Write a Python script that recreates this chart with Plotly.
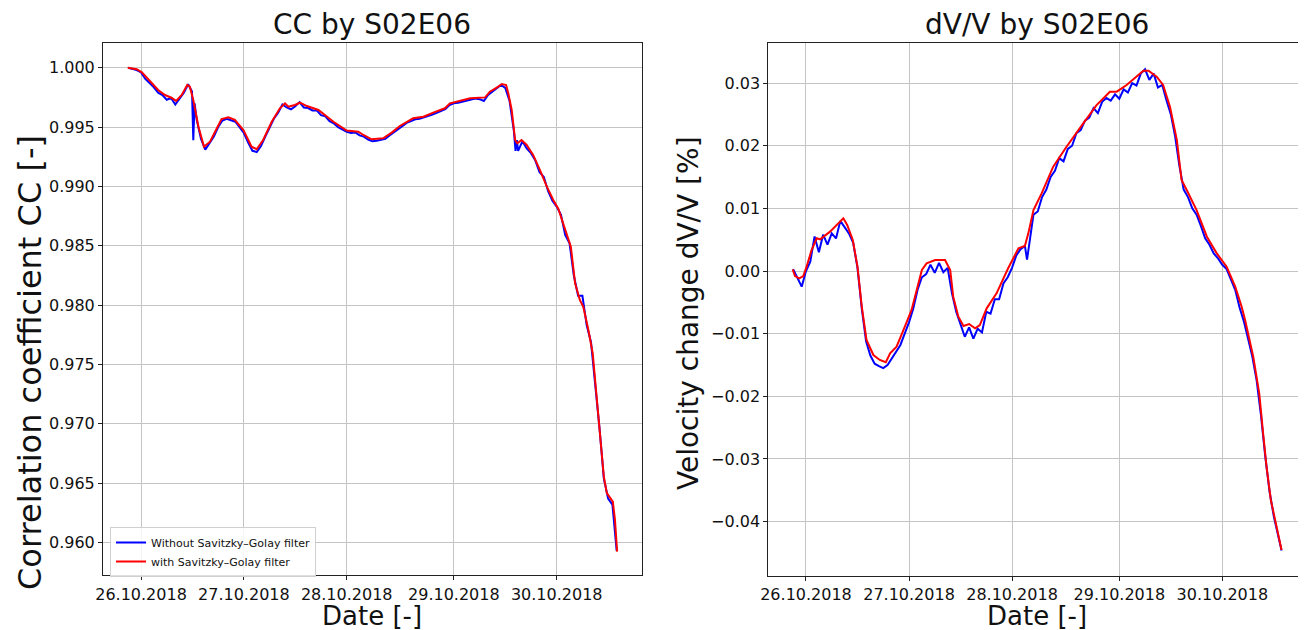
import plotly.graph_objects as go

# page body has an 8px margin: the figure is sized and positioned to compensate
OFF = 8
W, H = 1306 - OFF, 630 - OFF

# ---------------- data (hours since 26.10.2018 00:00 local time) ----------------
tick_hours = [0, 24, 48, 73, 97]
tick_labels = ["26.10.2018", "27.10.2018", "28.10.2018", "29.10.2018", "30.10.2018"]

cc_smooth_hours = [-3.1, -1.0, 0.2, 2.1, 4.0, 5.6, 7.1, 8.2, 9.5, 10.8, 11.4, 12.2, 13.4, 14.7,
                   16.1, 17.7, 18.8, 20.4, 21.9, 23.9, 25.8, 27.0, 28.5, 30.5, 32.4, 33.6, 34.4,
                   35.9, 37.1, 38.7, 41.4, 44.9, 48.0, 50.7, 51.9, 53.8, 56.5, 58.5, 60.4, 63.5,
                   65.9, 68.2, 70.9, 72.1, 74.4, 76.8, 80.3, 81.4, 83.0, 84.2, 85.2, 85.7, 86.5,
                   87.3, 87.8, 88.8, 90.0, 91.5, 93.1, 94.7, 96.2, 97.4, 98.5, 100.3, 101.3,
                   102.4, 103.2, 104.4, 105.4, 106.2, 107.1, 108.0, 108.7, 110.1, 110.6, 111.1]
cc_smooth = [1.0000, 0.99987, 0.99961, 0.99882, 0.99812, 0.99770, 0.99747, 0.99720, 0.99770,
             0.99854, 0.99840, 0.99728, 0.99503, 0.99335, 0.99377, 0.99490, 0.99568, 0.99582,
             0.99560, 0.99475, 0.99335, 0.99313, 0.99391, 0.99545, 0.99658, 0.99700, 0.99672,
             0.99686, 0.99705, 0.99677, 0.99644, 0.99545, 0.99470, 0.99461, 0.99433, 0.99397,
             0.99405, 0.99453, 0.99509, 0.99574, 0.99587, 0.99621, 0.99658, 0.99700, 0.99720,
             0.99742, 0.99750, 0.99798, 0.99832, 0.99863, 0.99854, 0.99784, 0.99644, 0.99391,
             0.99363, 0.99391, 0.99349, 0.99265, 0.99138, 0.98998, 0.98886, 0.98810, 0.98689,
             0.98492, 0.98184, 0.98044, 0.97987, 0.97791, 0.97595, 0.97258, 0.96921, 0.96555,
             0.96416, 0.96345, 0.96191, 0.95924]

cc_raw_hours = [-3, -2, -1, 0, 1, 2, 3, 4, 5, 6, 7, 8, 9, 10, 11, 11.9, 12.2, 12.5, 13, 14, 15,
                16, 17, 18, 19, 20, 21, 22, 23, 24, 25, 26, 27, 28, 29, 30, 31, 32, 33, 34, 35,
                36, 37, 38, 39, 40, 41, 42, 43, 44, 45, 46, 47, 48, 49, 50, 51, 52, 53, 54, 55,
                56, 57, 58, 59, 60, 61, 62, 63, 64, 65, 66, 67, 68, 69, 70, 71, 72, 73, 74, 75,
                76, 77, 78, 79, 80, 81, 82, 83, 84, 85, 86, 87, 87.4, 87.7, 88, 89, 90, 91, 92,
                93, 94, 95, 96, 97, 98, 99, 100, 101, 102, 103, 104, 105, 106, 107, 108, 109,
                110, 111]
cc_raw = [1.0000, 0.99990, 0.99980, 0.99960, 0.99905, 0.99870, 0.99835, 0.99790, 0.99770,
          0.99730, 0.99745, 0.99690, 0.99745, 0.99790, 0.99860, 0.99800, 0.99390, 0.99700,
          0.99560, 0.99400, 0.99310, 0.99360, 0.99420, 0.99500, 0.99555, 0.99570, 0.99560,
          0.99545, 0.99500, 0.99450, 0.99370, 0.99300, 0.99290, 0.99340, 0.99420, 0.99490,
          0.99570, 0.99620, 0.99690, 0.99665, 0.99650, 0.99675, 0.99710, 0.99665, 0.99660,
          0.99640, 0.99640, 0.99600, 0.99590, 0.99550, 0.99530, 0.99500, 0.99480, 0.99460,
          0.99450, 0.99455, 0.99430, 0.99420, 0.99395, 0.99380, 0.99385, 0.99390, 0.99400,
          0.99430, 0.99455, 0.99485, 0.99510, 0.99535, 0.99550, 0.99565, 0.99570, 0.99580,
          0.99590, 0.99605, 0.99620, 0.99635, 0.99650, 0.99685, 0.99700, 0.99705, 0.99715,
          0.99725, 0.99735, 0.99740, 0.99735, 0.99720, 0.99770, 0.99800, 0.99825, 0.99855,
          0.99830, 0.99720, 0.99470, 0.99300, 0.99390, 0.99300, 0.99380, 0.99320, 0.99280,
          0.99220, 0.99120, 0.99080, 0.98960, 0.98880, 0.98830, 0.98760, 0.98590, 0.98520,
          0.98250, 0.98080, 0.98080, 0.97830, 0.97690, 0.97330, 0.96960, 0.96540, 0.96370,
          0.96320, 0.95930]

dvv_smooth_hours = [-3.1, -2.56, -1.56, -0.63, 0.15, 1.3, 2.5, 3.3, 5.6, 7.9, 8.7, 9.6, 10.9,
                    12.0, 13.0, 14.1, 15.7, 17.2, 18.6, 19.6, 21.1, 22.7, 24.6, 25.8, 27.0,
                    28.1, 30.1, 32.4, 33.6, 34.3, 35.5, 36.7, 38.0, 39.4, 40.5, 42.1, 44.4,
                    47.1, 49.5, 51.0, 51.8, 53.0, 54.9, 57.6, 60.7, 64.6, 67.7, 70.8, 72.4,
                    74.7, 77.1, 78.6, 79.8, 81.7, 83.2, 84.8, 86.4, 87.5, 88.7, 91.0, 93.4,
                    95.7, 98.0, 100.0, 101.5, 102.3, 104.2, 105.6, 106.5, 107.3, 108.3, 109.3,
                    110.8]
dvv_smooth = [0.00027, -0.00080, -0.00117, -0.00080, 0.00069, 0.00335, 0.00522, 0.00506,
              0.00628, 0.00777, 0.00841, 0.00734, 0.00495, 0.00069, -0.00570, -0.01101,
              -0.01341, -0.01420, -0.01457, -0.01314, -0.01208, -0.00942, -0.00622, -0.00303,
              0.00016, 0.00122, 0.00176, 0.00176, 0.00016, -0.00410, -0.00730, -0.00878,
              -0.00846, -0.00915, -0.00862, -0.00596, -0.00356, 0.00043, 0.00362, 0.00400,
              0.00601, 0.00973, 0.01240, 0.01665, 0.01984, 0.02357, 0.02649, 0.02862, 0.02862,
              0.02969, 0.03112, 0.03197, 0.03197, 0.03101, 0.02969, 0.02622, 0.02091, 0.01452,
              0.01293, 0.00973, 0.00547, 0.00282, 0.00069, -0.00250, -0.00570, -0.00782,
              -0.01368, -0.01952, -0.02590, -0.03123, -0.03655, -0.03974, -0.04453]

dvv_raw_hours = [-3, -2, -1, 0, 1, 2, 3, 4, 5, 6, 7, 8, 9, 10, 11, 12, 13, 14, 15, 16, 17, 18,
                 19, 20, 21, 22, 23, 24, 25, 26, 27, 28, 29, 30, 31, 32, 33, 34, 35, 36, 37,
                 38, 39, 40, 41, 42, 43, 44, 45, 46, 47, 48, 49, 50, 51, 51.5, 52, 53, 54, 55,
                 56, 57, 58, 59, 60, 61, 62, 63, 64, 65, 66, 67, 68, 69, 70, 71, 72, 73, 74,
                 75, 76, 77, 78, 79, 80, 81, 82, 83, 84, 85, 86, 87, 88, 89, 90, 91, 92, 93,
                 94, 95, 96, 97, 98, 99, 100, 101, 102, 103, 104, 105, 106, 107, 108, 109,
                 110, 110.8]
dvv_raw = [0.0003, -0.0012, -0.0025, 0.0000, 0.0015, 0.0055, 0.0030, 0.0058, 0.0042, 0.0060,
           0.0052, 0.0080, 0.0070, 0.0060, 0.0045, 0.0005, -0.0060, -0.0112, -0.0135,
           -0.0148, -0.0152, -0.0155, -0.0150, -0.0140, -0.0130, -0.0118, -0.0100, -0.0082,
           -0.0060, -0.0030, -0.0010, -0.0005, 0.0010, -0.0003, 0.0013, -0.0002, 0.0005,
           -0.0035, -0.0065, -0.0085, -0.0105, -0.0090, -0.0108, -0.0092, -0.0098, -0.0065,
           -0.0068, -0.0045, -0.0045, -0.0020, -0.0010, 0.0005, 0.0025, 0.0035, 0.0040,
           0.0018, 0.0045, 0.0090, 0.0095, 0.0118, 0.0130, 0.0150, 0.0160, 0.0180, 0.0175,
           0.0195, 0.0200, 0.0220, 0.0225, 0.0240, 0.0245, 0.0260, 0.0252, 0.0270, 0.0276,
           0.0272, 0.0282, 0.0275, 0.0290, 0.0285, 0.0300, 0.0296, 0.0315, 0.0322, 0.0305,
           0.0315, 0.0293, 0.0297, 0.0272, 0.0250, 0.0215, 0.0168, 0.0130, 0.0118, 0.0100,
           0.0090, 0.0072, 0.0052, 0.0042, 0.0028, 0.0020, 0.0010, 0.0003, -0.0015, -0.0030,
           -0.0058, -0.0080, -0.0108, -0.0137, -0.0175, -0.0230, -0.0296, -0.0352, -0.0392,
           -0.0423, -0.0446]

cc_ticks = [0.960, 0.965, 0.970, 0.975, 0.980, 0.985, 0.990, 0.995, 1.000]
dvv_ticks = [-0.04, -0.03, -0.02, -0.01, 0.00, 0.01, 0.02, 0.03]

# ---------------- figure ----------------
BLUE = "#0000ff"
RED = "#ff0000"
GRID = "#c4c4c4"
FONT = "DejaVu Sans"

fig = go.Figure()
fig.add_trace(go.Scatter(x=cc_raw_hours, y=cc_raw, mode="lines", name="Without Savitzky–Golay filter",
                         line=dict(color=BLUE, width=2), xaxis="x", yaxis="y"))
fig.add_trace(go.Scatter(x=cc_smooth_hours, y=cc_smooth, mode="lines", name="with Savitzky–Golay filter",
                         line=dict(color=RED, width=2), xaxis="x", yaxis="y"))
fig.add_trace(go.Scatter(x=dvv_raw_hours, y=dvv_raw, mode="lines", showlegend=False,
                         line=dict(color=BLUE, width=2), xaxis="x2", yaxis="y2"))
fig.add_trace(go.Scatter(x=dvv_smooth_hours, y=dvv_smooth, mode="lines", showlegend=False,
                         line=dict(color=RED, width=2), xaxis="x2", yaxis="y2"))


def px_x(p):
    """window pixel x -> paper fraction"""
    return (p - OFF) / W


def px_y(p):
    """window pixel y -> paper fraction"""
    return 1 - (p - OFF) / H


common_axis = dict(showgrid=True, gridcolor=GRID, gridwidth=1, showline=True, linecolor="#222222",
                   linewidth=1, mirror=True, ticks="outside", ticklen=4, tickcolor="#222222",
                   zeroline=False, automargin=False,
                   tickfont=dict(family=FONT, size=16, color="#111111"))

fig.update_layout(
    width=W, height=H,
    margin=dict(l=0, r=0, t=0, b=0, pad=0, autoexpand=False),
    paper_bgcolor="white", plot_bgcolor="white",
    font=dict(family=FONT, color="#111111"),
    xaxis=dict(domain=[px_x(103), px_x(641.5)], range=[-8.87, 116.79], anchor="y",
               tickmode="array", tickvals=tick_hours, ticktext=tick_labels, **common_axis),
    yaxis=dict(domain=[px_y(575.3), px_y(43.3)], range=[0.957245, 1.002055], anchor="x",
               tickmode="array", tickvals=cc_ticks, ticktext=[f"{v:.3f}" for v in cc_ticks],
               **common_axis),
    xaxis2=dict(domain=[px_x(768.3), px_x(1305)], range=[-8.78, 116.26], anchor="y2",
                tickmode="array", tickvals=tick_hours, ticktext=tick_labels, **common_axis),
    yaxis2=dict(domain=[px_y(575.7), px_y(43.3)], range=[-0.048635, 0.036345], anchor="x2",
                tickmode="array", tickvals=dvv_ticks,
                ticktext=[f"{v:.2f}".replace("-", "\u2212") if abs(v) > 1e-12 else "0.00" for v in dvv_ticks],
                **common_axis),
    legend=dict(x=px_x(110), y=px_y(527), xanchor="left", yanchor="top",
                bgcolor="rgba(255,255,255,0.85)", bordercolor="#d0d0d0", borderwidth=1,
                font=dict(family=FONT, size=11, color="#111111"), tracegroupgap=0),
    showlegend=True,
)

annots = [
    dict(text="CC by S02E06", x=px_x(372), y=px_y(25), size=28, angle=0),
    dict(text="dV/V by S02E06", x=px_x(1036.5), y=px_y(25), size=28, angle=0),
    dict(text="Date [-]", x=px_x(372), y=px_y(616), size=26, angle=0),
    dict(text="Date [-]", x=px_x(1036.5), y=px_y(616), size=26, angle=0),
    dict(text="Correlation coefficient CC [-]", x=px_x(30), y=px_y(363), size=32, angle=-90),
    dict(text="Velocity change dV/V [%]", x=px_x(688), y=px_y(313), size=28, angle=-90),
]
for a in annots:
    fig.add_annotation(text=a["text"], x=a["x"], y=a["y"], xref="paper", yref="paper",
                       xanchor="center", yanchor="middle", showarrow=False, textangle=a["angle"],
                       font=dict(family=FONT, size=a["size"], color="#111111"))

fig.write_html("out.html")
